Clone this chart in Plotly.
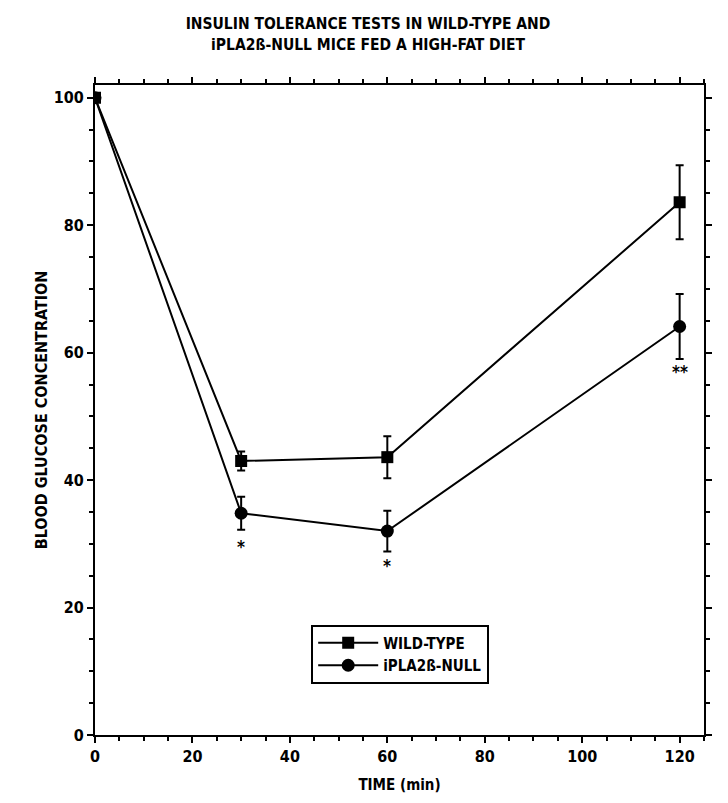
import plotly.graph_objects as go

time_min = [0, 30, 60, 120]
wt_mean = [100, 43.0, 43.6, 83.6]
wt_err = [0, 1.5, 3.3, 5.8]
null_mean = [100, 34.8, 32.0, 64.1]
null_err = [0, 2.6, 3.2, 5.1]
sig_x = [30, 60, 120]
sig_y = [29.5, 26.5, 57.0]
sig_text = ["*", "*", "**"]
x_ticks = [0, 20, 40, 60, 80, 100, 120]
y_ticks = [0, 20, 40, 60, 80, 100]

FONT = "Liberation Sans Narrow, Arial Narrow, DejaVu Sans Condensed, sans-serif"

fig = go.Figure()
fig.add_trace(go.Scatter(
    x=time_min, y=wt_mean, name="<b>WILD-TYPE</b>", mode="lines+markers",
    line=dict(color="black", width=2),
    marker=dict(symbol="square", size=12, color="black"),
    error_y=dict(type="data", array=wt_err, color="black", thickness=2, width=4),
))
fig.add_trace(go.Scatter(
    x=time_min, y=null_mean, name="<b>iPLA2ß-NULL</b>", mode="lines+markers",
    line=dict(color="black", width=2),
    marker=dict(symbol="circle", size=13, color="black"),
    error_y=dict(type="data", array=null_err, color="black", thickness=2, width=4),
))

for sx, sy, st in zip(sig_x, sig_y, sig_text):
    fig.add_annotation(x=sx, y=sy, text="<b>" + st + "</b>", showarrow=False,
                       font=dict(family=FONT, size=17, color="black"))

axis_common = dict(
    showline=True, linecolor="black", linewidth=2, mirror="allticks",
    ticks="outside", ticklen=6, tickwidth=2, tickcolor="black",
    showgrid=False, zeroline=False,
    tickfont=dict(family=FONT, size=16, color="black"),
)

fig.update_xaxes(
    range=[0, 125], tickmode="array", tickvals=x_ticks,
    ticktext=["<b>%d</b>" % v for v in x_ticks],
    minor=dict(dtick=5, ticks="outside", ticklen=4, tickwidth=1.5, tickcolor="black"),
    title=dict(text="<b>TIME (min)</b>", font=dict(family=FONT, size=15, color="black"), standoff=14),
    **axis_common,
)
fig.update_yaxes(
    range=[0, 102], tickmode="array", tickvals=y_ticks,
    ticktext=["<b>%d</b>" % v for v in y_ticks],
    minor=dict(dtick=5, ticks="outside", ticklen=4, tickwidth=1.5, tickcolor="black"),
    title=dict(text="<b>BLOOD GLUCOSE CONCENTRATION</b>", font=dict(family=FONT, size=16, color="black"), standoff=2),
    **axis_common,
)

fig.update_layout(
    width=720, height=795,
    margin=dict(l=87, r=24, t=77, b=54),
    paper_bgcolor="white", plot_bgcolor="white",
    title=dict(
        text="<b>INSULIN TOLERANCE TESTS IN WILD-TYPE AND<br>iPLA2ß-NULL MICE FED A HIGH-FAT DIET</b>",
        x=0.5, xanchor="center", y=0.973, yanchor="top",
        font=dict(family=FONT, size=15.5, color="black"),
    ),
    legend=dict(
        x=0.355, y=0.17, xanchor="left", yanchor="top",
        bgcolor="white", bordercolor="black", borderwidth=2,
        font=dict(family=FONT, size=15, color="black"),
        itemwidth=60, tracegroupgap=0,
    ),
    showlegend=True,
)

fig.write_html("out.html")
